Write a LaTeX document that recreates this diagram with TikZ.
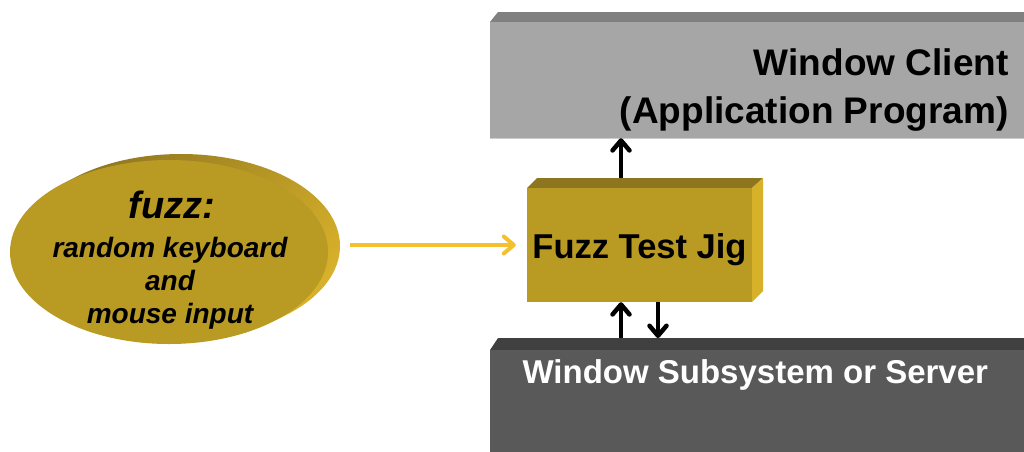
\documentclass[tikz,border=0pt]{standalone}
\usepackage{fontspec}
\setmainfont{Liberation Sans}
\usetikzlibrary{arrows.meta,shapes.geometric}
\definecolor{clientfront}{HTML}{A6A6A6}
\definecolor{clienttop}{HTML}{808080}
\definecolor{serverfront}{HTML}{595959}
\definecolor{servertop}{HTML}{404040}
\definecolor{goldfront}{HTML}{B99A22}
\definecolor{goldtop}{HTML}{8E7520}
\definecolor{goldside}{HTML}{D8B12A}
\definecolor{goldarrow}{HTML}{F4C02E}
\tikzset{
  face/.style={draw=none},
  edgeline/.style={draw=white!80!black, line width=0.8pt},
  flowarrow/.style={line width=4.5pt, -{Straight Barb[length=10pt,width=17pt,round]}},
  feedarrow/.style={flowarrow, draw=goldarrow, line width=4pt},
}
\begin{document}
\begin{tikzpicture}[x=1pt,y=-1pt]
\useasboundingbox (0,0) rectangle (1024,451);
\clip (0,0) rectangle (1024,451);

% Window client block
\fill[clienttop] (490,22) -- (498,12) -- (1030,12) -- (1030,22) -- cycle;
\node[face, fill=clientfront, minimum width=540pt, minimum height=116pt, inner sep=0pt]
  (client) at (760,80) {};
\draw[edgeline] (490,138) -- (1024,138);
\node[anchor=base east, align=right, font=\fontsize{37}{48}\selectfont\bfseries]
  (clienttext) at (1012,123) {Window Client\\(Application Program)};

% Window subsystem block
\fill[servertop] (490,350) -- (498,338) -- (1030,338) -- (1030,350) -- cycle;
\node[face, fill=serverfront, minimum width=540pt, minimum height=110pt, inner sep=0pt]
  (server) at (760,405) {};
\node[anchor=base west, text=white, font=\fontsize{33}{40}\selectfont\bfseries]
  (servertext) at (519,383) {Window Subsystem or Server};

% Fuzz test jig block
\fill[goldtop] (527,188) -- (537,178) -- (763,178) -- (752,188) -- cycle;
\fill[goldside] (752,188) -- (763,178) -- (763,291) -- (752,302) -- cycle;
\node[face, fill=goldfront, minimum width=225pt, minimum height=114pt, inner sep=0pt]
  (jig) at (639.5,245) {};
\node[anchor=base, font=\fontsize{34.5}{40}\selectfont\bfseries]
  (jigtext) at (639.5,258) {Fuzz Test Jig};

% Fuzz input disc
\shade[left color=goldtop, right color=goldside, shading angle=45]
  (181,246) ellipse [x radius=159, y radius=92];
\node[ellipse, fill=goldfront, minimum width=318pt, minimum height=184pt, inner sep=0pt]
  (input) at (169,252) {};
\node[anchor=base, font=\fontsize{38}{44}\selectfont\bfseries\itshape]
  (inputtitle) at (172,218) {fuzz:};
\node[anchor=base, align=center, font=\fontsize{28}{33}\selectfont\bfseries\itshape]
  (inputtext) at (170,323) {random keyboard\\and\\mouse input};

% Connectors
\coordinate (jigout) at (621,178);
\coordinate (servup) at (621,338);
\coordinate (servdown) at (658,338);
\draw[feedarrow, shorten <=22pt, shorten >=11pt] (input.east |- jig.west) -- (jig.west);
\draw[flowarrow] (jigout) -- (jigout |- client.south);
\draw[flowarrow] (servup) -- (servup |- jig.south);
\draw[flowarrow] (servdown |- jig.south) -- (servdown);
\end{tikzpicture}
\end{document}
